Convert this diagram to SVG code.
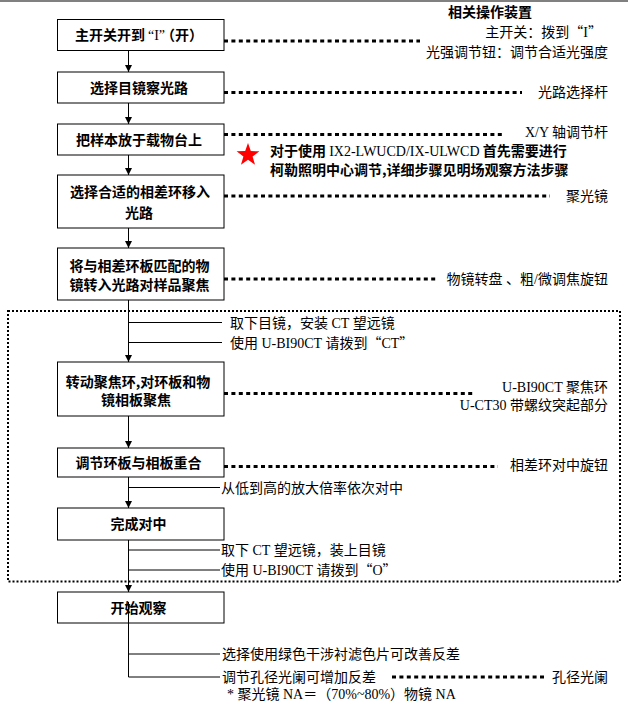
<svg xmlns="http://www.w3.org/2000/svg" width="628" height="714" viewBox="0 0 628 714">
<defs>
<style>
.box{fill:#fff;stroke:#000;stroke-width:1}
.ln{fill:none;stroke:#000;stroke-width:1}
.dl{fill:none;stroke:#000;stroke-width:3;stroke-dasharray:4 3.4}
.frame{fill:none;stroke:#000;stroke-width:2;stroke-dasharray:2 2}
text{font-family:"Liberation Serif","Noto Sans CJK SC",serif;font-size:14px;fill:#000}
.b{font-family:"Noto Sans CJK SC",sans-serif;font-weight:bold}
.c{text-anchor:middle}
.e{text-anchor:end}
.q{font-family:"Noto Sans CJK SC",sans-serif}
.n{font-family:"Liberation Serif",serif;font-weight:normal}
</style>
<marker id="ah" markerUnits="userSpaceOnUse" markerWidth="8" markerHeight="8" refX="7" refY="3.5" orient="auto">
<path d="M0,0 L7,3.5 L0,7 z" fill="#000"/>
</marker>
</defs>
<rect width="628" height="714" fill="#fff"/>
<line x1="0" y1="1" x2="628" y2="1" stroke="#808080" stroke-width="2"/>
<rect class="frame" x="8" y="311" width="612" height="270.5"/>
<g id="connectors">
<line class="ln" x1="128.5" y1="50.5" x2="128.5" y2="72" marker-end="url(#ah)"/>
<line class="ln" x1="128.5" y1="103" x2="128.5" y2="124" marker-end="url(#ah)"/>
<line class="ln" x1="128.5" y1="155" x2="128.5" y2="175" marker-end="url(#ah)"/>
<line class="ln" x1="128.5" y1="228" x2="128.5" y2="248" marker-end="url(#ah)"/>
<line class="ln" x1="128.5" y1="300" x2="128.5" y2="362" marker-end="url(#ah)"/>
<line class="ln" x1="128.5" y1="416" x2="128.5" y2="448" marker-end="url(#ah)"/>
<line class="ln" x1="128.5" y1="477" x2="128.5" y2="508" marker-end="url(#ah)"/>
<line class="ln" x1="128.5" y1="540" x2="128.5" y2="592" marker-end="url(#ah)"/>
<line class="ln" x1="128.5" y1="322.5" x2="222" y2="322.5"/>
<line class="ln" x1="128.5" y1="342.5" x2="222" y2="342.5"/>
<line class="ln" x1="128.5" y1="487.5" x2="220" y2="487.5"/>
<line class="ln" x1="128.5" y1="550" x2="220" y2="550"/>
<line class="ln" x1="128.5" y1="570" x2="220" y2="570"/>
<line class="dl" x1="224" y1="41" x2="420" y2="41"/>
<line class="dl" x1="224" y1="92.5" x2="522" y2="92.5"/>
<line class="dl" x1="224" y1="134.5" x2="503" y2="134.5"/>
<line class="dl" x1="224" y1="196" x2="550" y2="196"/>
<line class="dl" x1="224" y1="279" x2="437" y2="279"/>
<line class="dl" x1="224" y1="393.5" x2="475" y2="393.5"/>
<line class="dl" x1="224" y1="466.5" x2="498" y2="466.5"/>
<line class="dl" x1="392" y1="677" x2="547" y2="677"/>
</g>
<g id="n1"><rect class="box" x="57.5" y="19.5" width="166.5" height="31"/><text class="b c" x="139" y="40">主开关开到<tspan class="n" dx="3">“I”</tspan><tspan dx="3">（开）</tspan></text></g>
<g id="n2"><rect class="box" x="57.5" y="72" width="166.5" height="31"/><text class="b c" x="139" y="92.5">选择目镜察光路</text></g>
<g id="n3"><rect class="box" x="57.5" y="124" width="166.5" height="31"/><text class="b c" x="139" y="144.5">把样本放于载物台上</text></g>
<g id="n4"><rect class="box" x="57.5" y="175" width="166.5" height="53"/><text class="b c" x="140" y="196.5">选择合适的相差环移入</text><text class="b c" x="139" y="217.5">光路</text></g>
<g id="n5"><rect class="box" x="57.5" y="248" width="166.5" height="52"/><text class="b c" x="139.5" y="271">将与相差环板匹配的物</text><text class="b c" x="139.5" y="290">镜转入光路对样品聚焦</text></g>
<g id="n6"><rect class="box" x="57.5" y="362" width="166.5" height="54"/><text class="b c" x="138" y="386.5">转动聚焦环,对环板和物</text><text class="b c" x="136" y="405">镜相板聚焦</text></g>
<g id="n7"><rect class="box" x="57.5" y="448" width="166.5" height="29"/><text class="b c" x="138.5" y="467.5">调节环板与相板重合</text></g>
<g id="n8"><rect class="box" x="57.5" y="508" width="166.5" height="32"/><text class="b c" x="138.5" y="529">完成对中</text></g>
<g id="n9"><rect class="box" x="57.5" y="592" width="166.5" height="31"/><text class="b c" x="138.5" y="612.5">开始观察</text>
<path class="ln" d="M128.5,602 V677 H220"/><line class="ln" x1="128.5" y1="654" x2="220" y2="654"/></g>
<g id="labels">
<text class="b c" x="490" y="16.5">相关操作装置</text>
<text class="e" x="602" y="36.5">主开关：拨到<tspan class="q">“</tspan>I<tspan class="q">”</tspan></text>
<text class="e" x="608" y="56.5">光强调节钮：调节合适光强度</text>
<text class="e" x="608" y="97">光路选择杆</text>
<text class="e" x="608" y="137">X/Y 轴调节杆</text>
<text class="b" x="270" y="155.5">对于使用 <tspan class="n">IX2-LWUCD/IX-ULWCD</tspan> 首先需要进行</text>
<text class="b" x="270" y="174.5">柯勒照明中心调节,详细步骤见明场观察方法步骤</text>
<text class="e" x="608" y="201">聚光镜</text>
<text class="e" x="608" y="284">物镜转盘 、粗/微调焦旋钮</text>
<text x="230" y="328">取下目镜，安装 CT 望远镜</text>
<text x="230" y="347.5">使用 U-BI90CT 请拨到<tspan class="q">“</tspan>CT<tspan class="q">”</tspan></text>
<text class="e" x="608" y="392">U-BI90CT 聚焦环</text>
<text class="e" x="608" y="410">U-CT30 带螺纹突起部分</text>
<text class="e" x="608" y="470">相差环对中旋钮</text>
<text x="221" y="492.5">从低到高的放大倍率依次对中</text>
<text x="221" y="555">取下 CT 望远镜，装上目镜</text>
<text x="221" y="575">使用 U-BI90CT 请拨到<tspan class="q">“</tspan>O<tspan class="q">”</tspan></text>
<text x="222" y="659">选择使用绿色干涉衬滤色片可改善反差</text>
<text x="222" y="682">调节孔径光阑可增加反差</text>
<text class="e" x="608" y="682">孔径光阑</text>
<text x="227" y="698.5">* 聚光镜 NA＝（70%~80%）物镜 NA</text>
</g>
<polygon id="star" points="248,143 250.82,151.12 259.41,151.29 252.57,156.48 255.05,164.71 248,159.8 240.95,164.71 243.43,156.48 236.59,151.29 245.18,151.12" fill="#ff0000"/>
</svg>
